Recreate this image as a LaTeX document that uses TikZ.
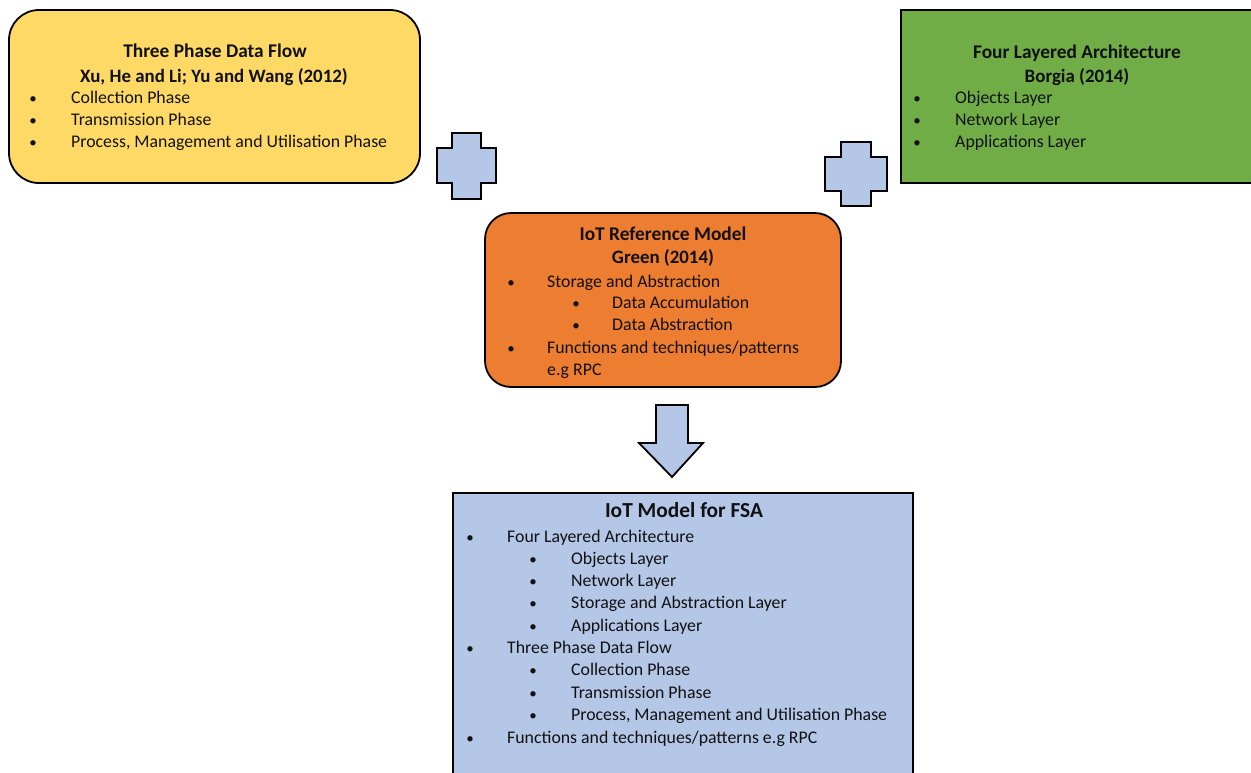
\documentclass[tikz,border=0pt]{standalone}
\usepackage{fontspec}
\setmainfont{Carlito}
\definecolor{boxyellow}{HTML}{FFD966}
\definecolor{boxgreen}{HTML}{70AD47}
\definecolor{boxorange}{HTML}{ED7D31}
\definecolor{boxblue}{HTML}{B4C7E7}
\definecolor{inktext}{HTML}{111111}
\begin{document}
\begin{tikzpicture}[x=1pt,y=-1pt,
  panel/.style={draw=black,line width=1.8pt},
  sign/.style={draw=black,line width=2.2pt,fill=boxblue,line join=miter},
  body/.style={anchor=base west,inner sep=0pt,text=inktext,font=\fontsize{17.8}{21}\selectfont},
  head/.style={anchor=base,inner sep=0pt,text=inktext,font=\fontsize{19.4}{23}\selectfont\bfseries},
  sub/.style={anchor=base,inner sep=0pt,text=inktext,font=\fontsize{18.9}{22}\selectfont\bfseries},
  dot/.style={anchor=base,inner sep=0pt,text=inktext,font=\fontsize{15}{18}\selectfont}]
\useasboundingbox (0,0) rectangle (1251,772);
\clip (0,0) rectangle (1251,772);

% panels
\draw[panel,fill=boxyellow,rounded corners=30pt] (9,10) rectangle (420,183);
\draw[panel,fill=boxgreen] (901,10) rectangle (1262,183);
\draw[panel,fill=boxorange,rounded corners=26pt] (485,213) rectangle (841,387);
\draw[panel,fill=boxblue] (453,493) rectangle (913,785);

% plus signs
\draw[sign] (452,133) -- (481,133) -- (481,148) -- (496,148) -- (496,183) -- (481,183)
  -- (481,199) -- (452,199) -- (452,183) -- (437,183) -- (437,148) -- (452,148) -- cycle;
\draw[sign] (841,142) -- (871,142) -- (871,157) -- (887,157) -- (887,191) -- (871,191)
  -- (871,206) -- (841,206) -- (841,191) -- (825,191) -- (825,157) -- (841,157) -- cycle;

% down arrow
\draw[sign,line width=1.8pt] (656,405) -- (688,405) -- (688,443) -- (703,443) -- (672,477)
  -- (639,443) -- (656,443) -- cycle;

% Three Phase Data Flow
\node[head] (t1) at (215,57) {Three Phase Data Flow};
\node[sub] (s1) at (214,82) {Xu, He and Li; Yu and Wang (2012)};
\node[dot] at (33,103) {•}; \node[body] (a1) at (71,103) {Collection Phase};
\node[dot] at (33,125) {•}; \node[body] (a2) at (71,125) {Transmission Phase};
\node[dot] at (33,147) {•}; \node[body] (a3) at (71,147) {Process, Management and Utilisation Phase};

% Four Layered Architecture
\node[head] (t2) at (1077,58) {Four Layered Architecture};
\node[sub] (s2) at (1077,82) {Borgia (2014)};
\node[dot] at (917,103) {•}; \node[body] (b1) at (955,103) {Objects Layer};
\node[dot] at (917,125) {•}; \node[body] (b2) at (955,125) {Network Layer};
\node[dot] at (917,147) {•}; \node[body] (b3) at (955,147) {Applications Layer};

% IoT Reference Model
\node[head] (t3) at (663,240) {IoT Reference Model};
\node[sub] (s3) at (663,263) {Green (2014)};
\node[dot] at (511,287) {•}; \node[body] (c1) at (547,287) {Storage and Abstraction};
\node[dot] at (576,308) {•}; \node[body] (c2) at (612,308) {Data Accumulation};
\node[dot] at (576,330) {•}; \node[body] (c3) at (612,330) {Data Abstraction};
\node[dot] at (511,353) {•}; \node[body] (c4) at (547,353) {Functions and techniques/patterns};
\node[body] (c5) at (547,375) {e.g RPC};

% IoT Model for FSA
\node[head,font=\fontsize{21.4}{25}\selectfont\bfseries] (t4) at (684,517) {IoT Model for FSA};
\node[dot] at (470,542) {•}; \node[body] (d1) at (507,542) {Four Layered Architecture};
\node[dot] at (533,564) {•}; \node[body] (d2) at (571,564) {Objects Layer};
\node[dot] at (533,586) {•}; \node[body] (d3) at (571,586) {Network Layer};
\node[dot] at (533,608) {•}; \node[body] (d4) at (571,608) {Storage and Abstraction Layer};
\node[dot] at (533,631) {•}; \node[body] (d5) at (571,631) {Applications Layer};
\node[dot] at (470,653) {•}; \node[body] (d6) at (507,653) {Three Phase Data Flow};
\node[dot] at (533,675) {•}; \node[body] (d7) at (571,675) {Collection Phase};
\node[dot] at (533,698) {•}; \node[body] (d8) at (571,698) {Transmission Phase};
\node[dot] at (533,720) {•}; \node[body] (d9) at (571,720) {Process, Management and Utilisation Phase};
\node[dot] at (470,743) {•}; \node[body] (d10) at (507,743) {Functions and techniques/patterns e.g RPC};
\end{tikzpicture}
\end{document}
